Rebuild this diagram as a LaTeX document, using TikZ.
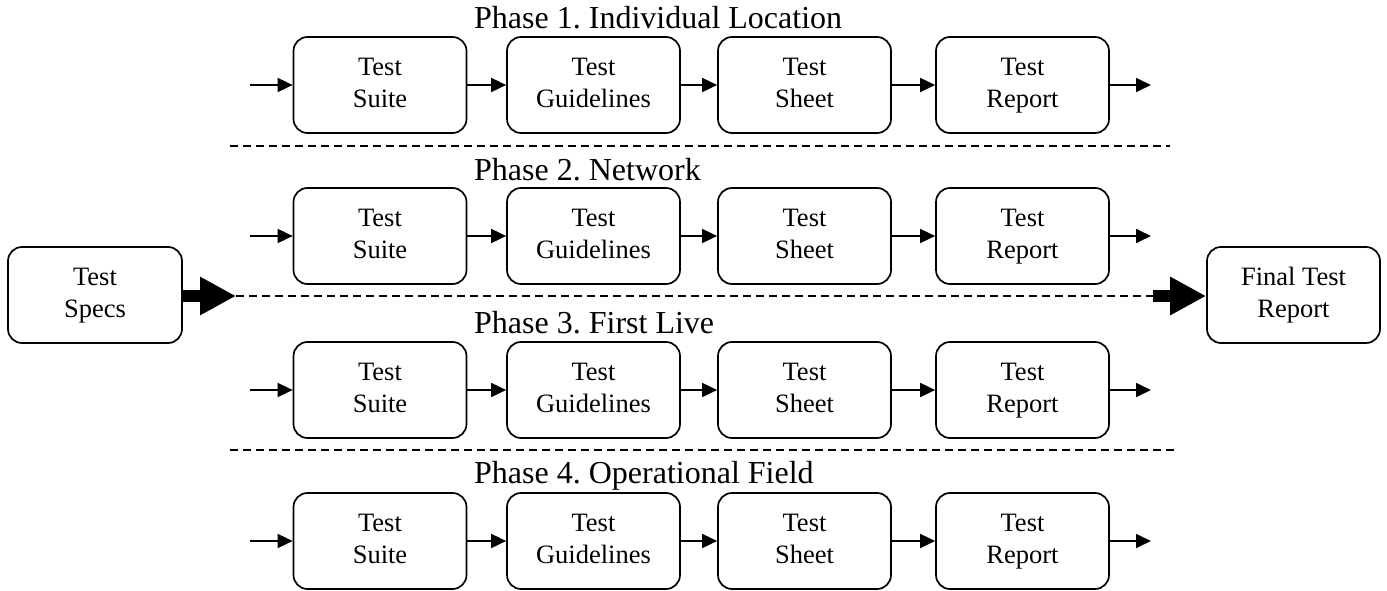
\documentclass[tikz,border=0pt]{standalone}
\usepackage{fontspec}
\setmainfont{Liberation Serif}
\usetikzlibrary{arrows.meta}
\frenchspacing
\begin{document}
\begin{tikzpicture}[x=1pt,y=-1pt,
  box/.style={draw, line width=1.7pt, rounded corners=14pt, minimum width=173pt, minimum height=96pt, align=center, inner sep=0pt, font=\fontsize{26.5}{32}\selectfont},
  flow/.style={line width=1.7pt, -{Triangle[length=15pt,width=14pt]}},
  big/.style={line width=12pt, -{Triangle[length=36pt,width=36pt]}},
  sep/.style={line width=1.6pt, dash pattern=on 8pt off 5pt},
  phase/.style={anchor=base west, inner sep=0pt, font=\fontsize{32}{38}\selectfont}]
\useasboundingbox (0,0) rectangle (1387,591);
\foreach \r/\y/\lab/\ly in {1/85/Individual Location/29, 2/236/Network/180, 3/390/First Live/333, 4/541/Operational Field/483}{
  \node[phase] (p\r) at (474,\ly) {Phase \r. \lab};
  \node[box] (s\r) at (380,\y) {\strut Test\\Suite\strut};
  \node[box] (g\r) at (593.5,\y) {\strut Test\\Guidelines\strut};
  \node[box] (h\r) at (804.5,\y) {\strut Test\\Sheet\strut};
  \node[box] (t\r) at (1022.5,\y) {\strut Test\\Report\strut};
  \coordinate (in\r) at (250,\y);
  \coordinate (out\r) at (1151,\y);
  \draw[flow] (in\r) -- (s\r);
  \draw[flow] (s\r) -- (g\r);
  \draw[flow] (g\r) -- (h\r);
  \draw[flow] (h\r) -- (t\r);
  \draw[flow] (t\r) -- (out\r);
}
\node[box, minimum width=174pt] (specs) at (95,295) {\strut Test\\Specs\strut};
\node[box] (final) at (1293.5,295) {\strut Final Test\\Report\strut};
\coordinate (d1a) at (230,146); \coordinate (d1b) at (1170,146);
\coordinate (d2a) at (236,296); \coordinate (d2b) at (1153,296);
\coordinate (d3a) at (230,450); \coordinate (d3b) at (1178,450);
\draw[sep] (d1a) -- (d1b);
\draw[sep] (d2a) -- (d2b);
\draw[sep] (d3a) -- (d3b);
\draw[big] (specs.east |- d2a) -- (d2a);
\draw[big] (d2b) -- (final.west |- d2b);
\end{tikzpicture}
\end{document}
